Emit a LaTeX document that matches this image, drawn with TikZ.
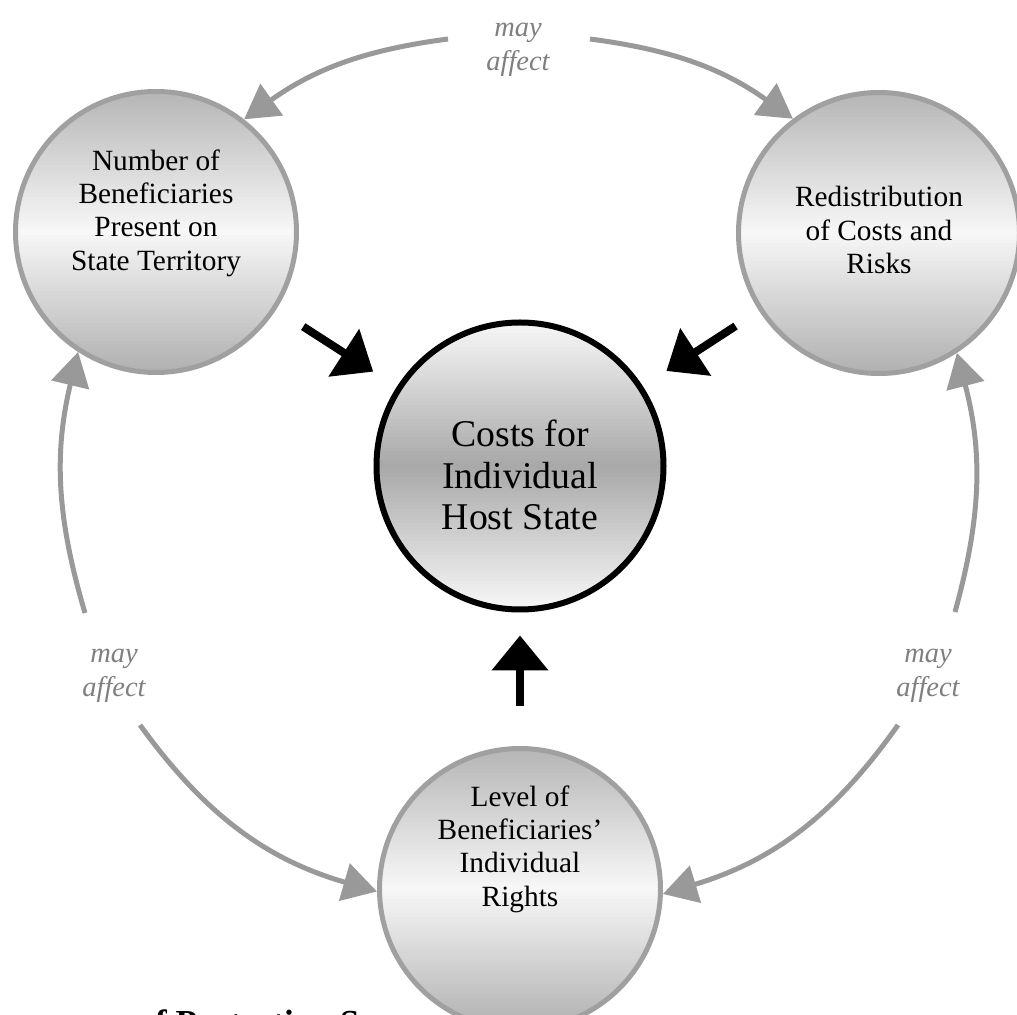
\documentclass[tikz,border=0pt]{standalone}
\usepackage{fontspec}
\setmainfont{Liberation Serif}
\usetikzlibrary{arrows.meta, positioning, calc}
\definecolor{RingGray}{HTML}{A0A0A0}
\definecolor{LinkGray}{HTML}{999999}
\definecolor{NoteGray}{HTML}{7F7F7F}

% vertical three-stop gradient in a disc, built from thin strips
% #1 centre name, #2 radius (cm), #3 top, #4 middle, #5 bottom (percent black)
\newcommand{\GradDisc}[5]{%
  \begin{scope}
    \clip (#1) circle (#2);
    \foreach \k in {0,...,79}{
      \pgfmathsetmacro{\gradT}{(\k+0.5)/80}
      \pgfmathsetmacro{\gradTone}{\gradT<0.5 ? #3+(#4-#3)*2*\gradT : #4+(#5-#4)*(2*\gradT-1)}
      \pgfmathsetmacro{\gradTop}{#2-2*#2*\k/80+0.005}
      \pgfmathsetmacro{\gradBot}{#2-2*#2*(\k+1)/80-0.005}
      \fill[black!\gradTone] ([shift={(-#2,\gradTop)}]#1) rectangle ([shift={(#2,\gradBot)}]#1);
    }
  \end{scope}}

\tikzset{
  factor/.style={circle, draw=RingGray, line width=1mm, minimum size=5.62cm},
  hub/.style={circle, draw=black, line width=1.2mm, minimum size=5.74cm},
  factortext/.style={align=center, font=\fontsize{16.7}{19}\selectfont},
  hubtext/.style={align=center, font=\fontsize{21.5}{23.7}\selectfont},
  note/.style={align=center, text=NoteGray, font=\fontsize{16.2}{19}\selectfont\itshape},
  link/.style={draw=LinkGray, line width=1mm, -{Triangle[length=6.8mm, width=7.6mm]}},
  push/.style={draw=black, line width=1.6mm, -{Triangle[length=7mm, width=11mm]}}
}

\begin{document}
\begin{tikzpicture}
  % --- PAGE FRAME ---
  \def\PageW{20.34}
  \def\PageH{20.28}
  \useasboundingbox (0,0) rectangle (\PageW,\PageH);
  \clip (0,0) rectangle (\PageW,\PageH);

  % =====================================================================
  % 1. CIRCLES (gradient first, then the ring on top)
  % =====================================================================
  \coordinate (costc) at (10.40,10.96);
  \coordinate (numc) at (3.12,15.64);
  \coordinate (redisc) at (17.58,15.62);
  \coordinate (levelc) at (10.40,2.50);

  \GradDisc{costc}{2.87}{3}{34}{3}
  \GradDisc{numc}{2.81}{29}{3}{31}
  \GradDisc{redisc}{2.81}{29}{3}{31}
  \GradDisc{levelc}{2.81}{29}{3}{31}

  \node[hub] (cost) at (costc) {};
  \node[factor] (num) at (numc) {};
  \node[factor] (redis) at (redisc) {};
  \node[factor] (level) at (levelc) {};

  % Texts (set a bit off the centres, as in the source)
  \node[hubtext] (costtext) at ([yshift=-1.8mm]cost) {Costs for\\Individual\\Host State};
  \node[factortext] (numtext) at ([yshift=3.8mm]num) {Number of\\Beneficiaries\\Present on\\State Territory};
  \node[factortext] (redistext) at ([yshift=0.6mm]redis) {Redistribution\\of Costs and\\Risks};
  \node[factortext] (leveltext) at ([yshift=8mm]level) {Level of\\Beneficiaries’\\Individual\\Rights};

  % =====================================================================
  % 2. DIRECT EFFECTS (black)
  % =====================================================================
  \draw[push, shorten <=6.4mm, shorten >=5.6mm] (num) -- (cost);
  \draw[push, shorten <=5.6mm, shorten >=5.6mm] (redis) -- (cost);
  \draw[push, shorten <=8mm, shorten >=4.6mm] (level) -- (cost);

  % =====================================================================
  % 3. "MAY AFFECT" RING (gray)
  % =====================================================================
  \node[note] (notetop) at (10.36,19.28) {may\\affect};
  \node[note] (noteleft) at (2.28,6.76) {may\\affect};
  \node[note] (noteright) at (18.56,6.76) {may\\affect};

  \coordinate (s1) at (8.96,19.50);
  \coordinate (s2) at (11.80,19.50);
  \coordinate (s3) at (1.70,8.02);
  \coordinate (s4) at (2.80,5.78);
  \coordinate (s5) at (19.10,8.04);
  \coordinate (s6) at (17.96,5.78);

  \draw[link] (s1) to[bend right=14] (num.52);
  \draw[link] (s2) to[bend left=14] (redis.127);
  \draw[link] (s3) to[bend left=15] (num.-123);
  \draw[link] (s4) to[bend right=19] (level.181);
  \draw[link] (s5) to[bend right=15] (redis.-57);
  \draw[link] (s6) to[bend left=19] (level.-2);

  % Caption (cut by the page edge)
  \node[anchor=north west, inner sep=0pt, font=\fontsize{20}{24}\selectfont\bfseries] (capt) at (1.20,0.10) {ance of Protection S};

\end{tikzpicture}
\end{document}
